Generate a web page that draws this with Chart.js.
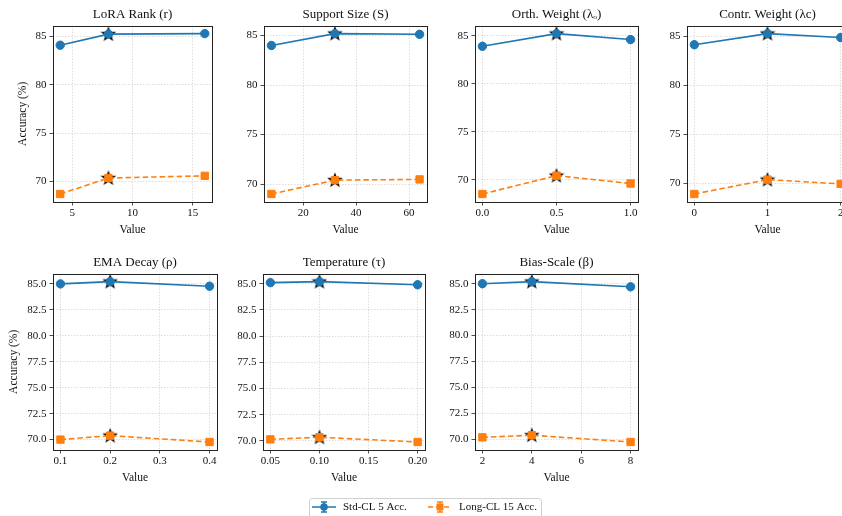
<!DOCTYPE html>
<html>
<head>
<meta charset="utf-8">
<script src="https://cdn.jsdelivr.net/npm/chart.js@4.4.0/dist/chart.umd.min.js"></script>
<style>
  html, body { margin: 0; padding: 0; background: #fff; overflow: hidden; }
  body { width: 842px; height: 516px; position: relative; }
  .panel { position: absolute; }
  #legend { position: absolute; left: 305px; top: 494px; }
</style>
</head>
<body>
<canvas id="legend" width="242" height="26"></canvas>

<script>
// Data
const titles = ['LoRA Rank (r)', 'Support Size (S)', 'Orth. Weight (\u03bb\u2092)', 'Contr. Weight (\u03bbc)',
                'EMA Decay (\u03c1)', 'Temperature (\u03c4)', 'Bias-Scale (\u03b2)'];

const xLora = [4, 8, 16];
const xSupport = [8, 32, 64];
const xOrth = [0.0, 0.5, 1.0];
const xContr = [0, 1, 2];
const xEma = [0.1, 0.2, 0.4];
const xTemp = [0.05, 0.10, 0.20];
const xBias = [2, 4, 8];

const stdLora = [84.1, 85.25, 85.3];
const stdSupport = [84.0, 85.2, 85.13];
const stdOrth = [83.9, 85.22, 84.6];
const stdContr = [84.12, 85.25, 84.85];
const stdEma = [85.0, 85.22, 84.78];
const stdTemp = [85.1, 85.2, 84.9];
const stdBias = [85.0, 85.2, 84.7];

const longLora = [68.7, 70.35, 70.58];
const longSupport = [69.0, 70.4, 70.47];
const longOrth = [68.53, 70.44, 69.62];
const longContr = [68.92, 70.38, 69.95];
const longEma = [70.0, 70.38, 69.77];
const longTemp = [70.15, 70.35, 69.9];
const longBias = [70.2, 70.4, 69.75];

// index of the best setting (star marker)
const bestIdx = [1, 1, 1, 1, 1, 1, 1];

const xTicksLora = [5, 10, 15];
const xTicksSupport = [20, 40, 60];
const xTicksOrth = [0.0, 0.5, 1.0];
const xTicksContr = [0, 1, 2];
const xTicksEma = [0.1, 0.2, 0.3, 0.4];
const xTicksTemp = [0.05, 0.10, 0.15, 0.20];
const xTicksBias = [2, 4, 6, 8];

const yTicksTop = [70, 75, 80, 85];
const yTicksBottom = [70, 72.5, 75, 77.5, 80, 82.5, 85];

const seriesNames = ['Std-CL 5 Acc.', 'Long-CL 15 Acc.'];

const BLUE = '#1f77b4';
const ORANGE = '#ff7f0e';
const FONT = '"Liberation Serif", "DejaVu Serif", serif';

// plot-area boxes [left, top, right, bottom] and tick formatting
const panels = [
  { x: xLora, std: stdLora, long: longLora, xt: xTicksLora, yt: yTicksTop, xd: 0, yd: 0, box: [53, 25, 212, 202], ylab: true, yw: 37 },
  { x: xSupport, std: stdSupport, long: longSupport, xt: xTicksSupport, yt: yTicksTop, xd: 0, yd: 0, box: [264, 25, 427, 202] },
  { x: xOrth, std: stdOrth, long: longOrth, xt: xTicksOrth, yt: yTicksTop, xd: 1, yd: 0, box: [475, 25, 638, 202] },
  { x: xContr, std: stdContr, long: longContr, xt: xTicksContr, yt: yTicksTop, xd: 0, yd: 0, box: [687, 25, 848, 202] },
  { x: xEma, std: stdEma, long: longEma, xt: xTicksEma, yt: yTicksBottom, xd: 1, yd: 1, box: [53, 273, 217, 450], ylab: true, yw: 46 },
  { x: xTemp, std: stdTemp, long: longTemp, xt: xTicksTemp, yt: yTicksBottom, xd: 2, yd: 1, box: [263, 273, 425, 450] },
  { x: xBias, std: stdBias, long: longBias, xt: xTicksBias, yt: yTicksBottom, xd: 0, yd: 1, box: [475, 273, 638, 450] }
];

// filled 5-point star used as the "best" marker
function makeStar(color) {
  const c = document.createElement('canvas');
  c.width = 16; c.height = 16;
  const g = c.getContext('2d');
  g.beginPath();
  for (let i = 0; i < 10; i++) {
    const r = i % 2 === 0 ? 6.4 : 2.6;
    const a = -Math.PI / 2 + i * Math.PI / 5;
    const px = 8 + r * Math.cos(a), py = 8.4 + r * Math.sin(a);
    if (i === 0) g.moveTo(px, py); else g.lineTo(px, py);
  }
  g.closePath();
  g.fillStyle = color;
  g.fill();
  g.lineWidth = 1.2;
  g.strokeStyle = '#000';
  g.stroke();
  return c;
}
const starBlue = makeStar(BLUE);
const starOrange = makeStar(ORANGE);

// matplotlib-like full frame around the plot area
const framePlugin = {
  id: 'frame',
  afterDraw(chart) {
    const a = chart.chartArea, ctx = chart.ctx;
    ctx.save();
    ctx.strokeStyle = '#222';
    ctx.lineWidth = 1;
    ctx.strokeRect(Math.round(a.left) + 0.5, Math.round(a.top) + 0.5, Math.round(a.right - a.left), Math.round(a.bottom - a.top));
    ctx.restore();
  }
};

function pad(lo, hi) {
  const m = (hi - lo) * 0.05;
  return [lo - m, hi + m];
}

const TITLE_H = 20, XH = 38, RP = 14;

panels.forEach((p, i) => {
  const [l, t, r, b] = p.box;
  const yw = p.yw || 40;
  const left = l - yw, top = t - TITLE_H;
  const w = yw + (r - l) + RP, h = TITLE_H + (b - t) + XH;

  const div = document.createElement('div');
  div.className = 'panel';
  div.style.left = left + 'px';
  div.style.top = top + 'px';
  div.style.width = w + 'px';
  div.style.height = h + 'px';
  const cv = document.createElement('canvas');
  div.appendChild(cv);
  document.body.appendChild(div);

  const [xmin, xmax] = pad(Math.min(...p.x), Math.max(...p.x));
  const allY = p.std.concat(p.long);
  const [ymin, ymax] = pad(Math.min(...allY), Math.max(...allY));
  const k = bestIdx[i];

  const stdPts = p.x.map((v, j) => ({ x: v, y: p.std[j] }));
  const longPts = p.x.map((v, j) => ({ x: v, y: p.long[j] }));

  new Chart(cv, {
    type: 'line',
    data: {
      datasets: [
        {
          label: seriesNames[0],
          data: stdPts,
          borderColor: BLUE, backgroundColor: BLUE,
          borderWidth: 1.6,
          pointStyle: 'circle', pointRadius: 4.2, pointBorderWidth: 1,
          pointBorderColor: BLUE, pointBackgroundColor: BLUE,
          order: 1
        },
        {
          label: seriesNames[1],
          data: longPts,
          borderColor: ORANGE, backgroundColor: ORANGE,
          borderWidth: 1.6, borderDash: [5.5, 3],
          pointStyle: 'rect', pointRadius: 5.2, pointBorderWidth: 1,
          pointBorderColor: ORANGE, pointBackgroundColor: ORANGE,
          order: 2
        },
        {
          label: 'best-std',
          data: [stdPts[k]],
          showLine: false,
          pointStyle: starBlue, pointRadius: 8,
          order: 3
        },
        {
          label: 'best-long',
          data: [longPts[k]],
          showLine: false,
          pointStyle: starOrange, pointRadius: 8,
          order: 4
        }
      ]
    },
    options: {
      responsive: true,
      maintainAspectRatio: false,
      animation: false,
      layout: { padding: { left: 0, top: 0, right: RP, bottom: 0 } },
      plugins: {
        legend: { display: false },
        tooltip: { enabled: false },
        title: {
          display: true,
          fullSize: false,
          text: titles[i],
          color: '#111',
          font: { family: FONT, size: 13, weight: 'normal' },
          padding: { top: 2, bottom: 3 }
        }
      },
      scales: {
        x: {
          type: 'linear',
          min: xmin, max: xmax,
          afterBuildTicks: s => { s.ticks = p.xt.map(v => ({ value: v })); },
          afterFit: s => { s.height = XH; },
          ticks: {
            color: '#111',
            font: { family: FONT, size: 11 },
            padding: 1,
            maxRotation: 0,
            callback: v => v.toFixed(p.xd)
          },
          grid: {
            color: 'rgba(185,185,185,0.7)', lineWidth: 0.7,
            tickLength: 3.5, tickColor: '#222', tickWidth: 0.8, tickBorderDash: []
          },
          border: { display: false, dash: [1.5, 1.5] },
          title: {
            display: true, text: 'Value', color: '#111',
            font: { family: FONT, size: 11.5 },
            padding: { top: 0, bottom: 3 }
          }
        },
        y: {
          type: 'linear',
          min: ymin, max: ymax,
          afterBuildTicks: s => { s.ticks = p.yt.map(v => ({ value: v })); },
          afterFit: s => { s.width = yw; },
          ticks: {
            color: '#111',
            font: { family: FONT, size: 11 },
            padding: 3,
            callback: v => v.toFixed(p.yd)
          },
          grid: {
            color: 'rgba(185,185,185,0.7)', lineWidth: 0.7,
            tickLength: 3.5, tickColor: '#222', tickWidth: 0.8, tickBorderDash: []
          },
          border: { display: false, dash: [1.5, 1.5] },
          title: {
            display: !!p.ylab, text: 'Accuracy (%)', color: '#111',
            font: { family: FONT, size: 11.5 },
            padding: { top: 0, bottom: 0 }
          }
        }
      }
    },
    plugins: [framePlugin]
  });
});

// shared legend below the panels: line + marker + error-bar caps, then label
function drawHandle(g, x0, color, dashed, square) {
  const y = 13, cx = x0 + 12;
  g.strokeStyle = color;
  g.fillStyle = color;
  g.lineWidth = 1.5;
  if (dashed) g.setLineDash([5, 3]);
  g.beginPath(); g.moveTo(x0, y); g.lineTo(x0 + 24, y); g.stroke();
  g.setLineDash([]);
  g.beginPath(); g.moveTo(cx, y - 5); g.lineTo(cx, y + 5); g.stroke();
  g.beginPath(); g.moveTo(cx - 3, y - 5); g.lineTo(cx + 3, y - 5); g.moveTo(cx - 3, y + 5); g.lineTo(cx + 3, y + 5); g.stroke();
  g.beginPath();
  if (square) g.rect(cx - 3.5, y - 3.5, 7, 7);
  else g.arc(cx, y, 3.8, 0, Math.PI * 2);
  g.fill();
}
const lg = document.getElementById('legend').getContext('2d');
lg.strokeStyle = '#d0d0d0';
lg.lineWidth = 1;
lg.beginPath();
lg.roundRect(4.5, 4.5, 232, 30, 3);
lg.stroke();
drawHandle(lg, 7, BLUE, false, false);
drawHandle(lg, 123, ORANGE, true, true);
lg.fillStyle = '#111';
lg.font = '11px ' + FONT;
lg.textBaseline = 'middle';
lg.fillText(seriesNames[0], 38, 13.5);
lg.fillText(seriesNames[1], 154, 13.5);
</script>
</body>
</html>
